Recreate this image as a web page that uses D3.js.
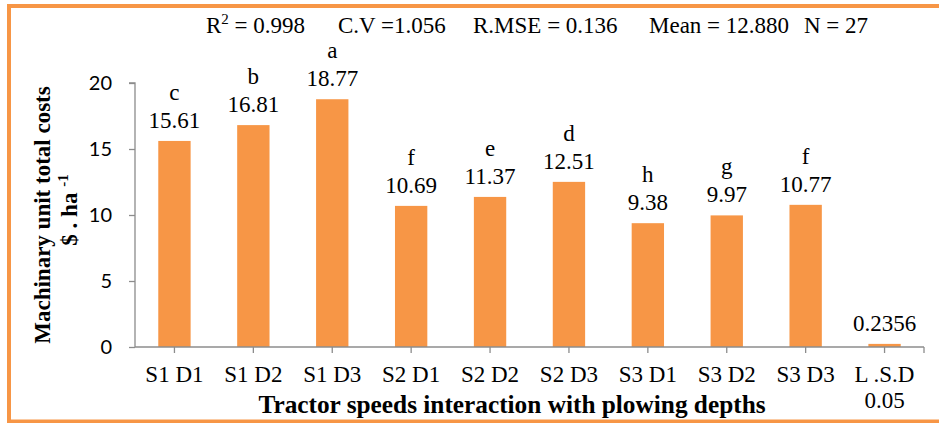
<!DOCTYPE html>
<html>
<head>
<meta charset="utf-8">
<script src="https://cdn.jsdelivr.net/npm/d3@7/dist/d3.min.js"></script>
<style>
  html, body { margin: 0; padding: 0; background: #fff; }
  svg { display: block; }
</style>
</head>
<body>
<svg id="chart" width="939" height="423"></svg>
<script>
// Treatment combinations (tractor speed x plowing depth) plus the L.S.D bar
const categories = ["S1 D1", "S1 D2", "S1 D3", "S2 D1", "S2 D2", "S2 D3", "S3 D1", "S3 D2", "S3 D3", "L.S.D"];
const costs = [15.61, 16.81, 18.77, 10.69, 11.37, 12.51, 9.38, 9.97, 10.77, 0.2356];
const valueLabels = ["15.61", "16.81", "18.77", "10.69", "11.37", "12.51", "9.38", "9.97", "10.77", "0.2356"];
const groupLetters = ["c", "b", "a", "f", "e", "d", "h", "g", "f", ""];
const yTicks = [0, 5, 10, 15, 20];
const statsText = ["R² = 0.998", "C.V =1.056", "R.MSE = 0.136", "Mean = 12.880", "N = 27"];

const svg = d3.select("#chart");
const orange = "#F79646";
const axisGrey = "#8c8c8c";
const serif = "'Liberation Serif', 'Times New Roman', serif";
const sans = "Lato, 'Open Sans', sans-serif";

// outer frame
svg.append("rect")
  .attr("x", 9).attr("y", 6).attr("width", 940).attr("height", 415.5)
  .attr("fill", "none").attr("stroke", orange).attr("stroke-width", 4);

const plot = { left: 135, right: 924, top: 83, bottom: 347 };

const x = d3.scaleBand()
  .domain(categories)
  .range([plot.left, plot.right])
  .paddingInner(0.59).paddingOuter(0.295);

const y = d3.scaleLinear().domain([0, 20]).range([plot.bottom, plot.top]);

// y axis
const yAxis = svg.append("g")
  .attr("transform", `translate(${plot.left},0)`)
  .call(d3.axisLeft(y).tickValues(yTicks).tickSize(6).tickPadding(17).tickFormat(d3.format("d")));
yAxis.select(".domain").attr("stroke", axisGrey).attr("stroke-width", 1.3)
  .attr("d", `M-6,${y(20)}H0V${y(0)}`);
yAxis.selectAll(".tick line").attr("stroke", axisGrey).attr("stroke-width", 1.3);
yAxis.selectAll(".tick text")
  .attr("font-family", sans).attr("font-size", 20).attr("fill", "#000");

// bars
svg.append("g").selectAll("rect")
  .data(costs)
  .join("rect")
  .attr("x", (d, i) => x(categories[i]))
  .attr("y", d => y(d))
  .attr("width", x.bandwidth())
  .attr("height", d => y(0) - y(d))
  .attr("fill", orange);

// x axis with ticks under each category centre
const xAxisG = svg.append("g").attr("transform", `translate(0,${plot.bottom})`);
xAxisG.append("line")
  .attr("x1", plot.left).attr("x2", plot.right)
  .attr("stroke", axisGrey).attr("stroke-width", 1.5);
xAxisG.selectAll("line.tick")
  .data(categories)
  .join("line")
  .attr("class", "tick")
  .attr("x1", d => x(d) + x.bandwidth() / 2)
  .attr("x2", d => x(d) + x.bandwidth() / 2)
  .attr("y1", 0).attr("y2", 6)
  .attr("stroke", axisGrey).attr("stroke-width", 1.3);
xAxisG.append("line")
  .attr("x1", plot.right).attr("x2", plot.right).attr("y1", 0).attr("y2", 6)
  .attr("stroke", axisGrey).attr("stroke-width", 1.3);

// category labels
svg.append("g").selectAll("text")
  .data(categories)
  .join("text")
  .attr("x", d => x(d) + x.bandwidth() / 2)
  .attr("y", 382)
  .attr("text-anchor", "middle")
  .attr("font-family", serif).attr("font-size", 23)
  .text(d => d === "L.S.D" ? "L .S.D" : d);
svg.append("text")
  .attr("x", x("L.S.D") + x.bandwidth() / 2)
  .attr("y", 408)
  .attr("text-anchor", "middle")
  .attr("font-family", serif).attr("font-size", 23)
  .text("0.05");

// value labels
svg.append("g").selectAll("text")
  .data(costs)
  .join("text")
  .attr("x", (d, i) => x(categories[i]) + x.bandwidth() / 2)
  .attr("y", d => y(d) - 13)
  .attr("text-anchor", "middle")
  .attr("font-family", serif).attr("font-size", 23)
  .text((d, i) => valueLabels[i]);

// significance letters
svg.append("g").selectAll("text")
  .data(costs)
  .join("text")
  .attr("x", (d, i) => x(categories[i]) + x.bandwidth() / 2)
  .attr("y", d => y(d) - 41)
  .attr("text-anchor", "middle")
  .attr("font-family", serif).attr("font-size", 23)
  .text((d, i) => groupLetters[i]);

// statistics line
const statsX = [206, 338, 473, 649, 804];
svg.append("g").selectAll("text")
  .data(statsText)
  .join("text")
  .attr("x", (d, i) => statsX[i])
  .attr("y", 33)
  .attr("font-family", serif).attr("font-size", 23)
  .each(function(d) {
    const t = d3.select(this);
    if (d.startsWith("R²")) {
      t.append("tspan").text("R");
      t.append("tspan").attr("dy", -9).attr("font-size", 15).text("2");
      t.append("tspan").attr("dy", 9).text(" = 0.998");
    } else {
      t.text(d);
    }
  });

// x axis title
svg.append("text")
  .attr("x", 512).attr("y", 413)
  .attr("text-anchor", "middle")
  .attr("font-family", serif).attr("font-size", 25.3).attr("font-weight", "bold")
  .text("Tractor speeds interaction with plowing depths");

// y axis title (two lines)
svg.append("text")
  .attr("transform", "translate(50,215) rotate(-90)")
  .attr("text-anchor", "middle")
  .attr("font-family", serif).attr("font-size", 23).attr("font-weight", "bold")
  .text("Machinary unit total costs");
const sub = svg.append("text")
  .attr("transform", "translate(77,210) rotate(-90)")
  .attr("text-anchor", "middle")
  .attr("font-family", serif).attr("font-size", 23).attr("font-weight", "bold");
sub.append("tspan").text("$ . ha ");
sub.append("tspan").attr("dy", -9).attr("font-size", 15).text("-1");
</script>
</body>
</html>
